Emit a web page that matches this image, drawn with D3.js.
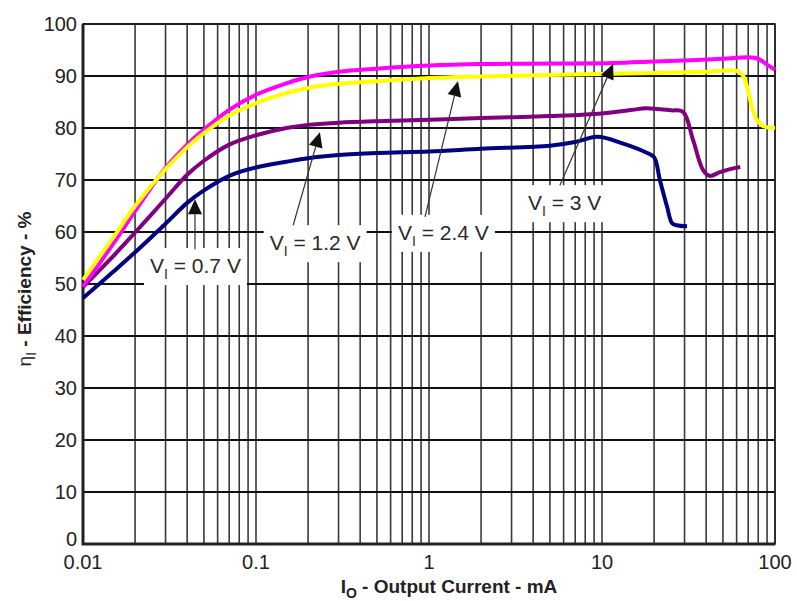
<!DOCTYPE html>
<html>
<head>
<meta charset="utf-8">
<script src="https://cdn.jsdelivr.net/npm/d3@7"></script>
<style>
  body { margin: 0; background: #fff; }
  svg { display: block; font-family: "Liberation Sans", Arial, sans-serif; }
</style>
</head>
<body>
<svg id="chart" width="797" height="601"></svg>
<script>
// output current (mA) and efficiency (%)
var i07 = [0.01, 0.015, 0.02, 0.03, 0.04, 0.05, 0.07, 0.1, 0.15, 0.2, 0.3, 0.5, 1, 2, 5, 7, 9.4, 13, 18, 20, 21.6, 23.8, 25.4, 27, 31];
var e07 = [47.3, 52.4, 56.1, 61.6, 65.6, 68, 70.8, 72.4, 73.5, 74.2, 74.8, 75.2, 75.5, 76, 76.6, 77.3, 78.3, 77.1, 75.3, 74.4, 70, 64.8, 61.7, 61.3, 61.1];

var i12 = [0.01, 0.015, 0.02, 0.03, 0.04, 0.05, 0.07, 0.1, 0.15, 0.2, 0.3, 0.5, 1, 2, 5, 10, 15, 18, 25, 29.4, 33.6, 38.4, 42, 48, 55, 63];
var e12 = [49.4, 55.4, 59.9, 66.4, 71, 73.7, 76.8, 78.6, 80, 80.6, 81, 81.3, 81.6, 81.9, 82.3, 82.8, 83.5, 83.8, 83.4, 83.1, 77.7, 71.9, 70.8, 71.5, 72.1, 72.5];

var i24 = [0.01, 0.015, 0.02, 0.03, 0.04, 0.05, 0.07, 0.1, 0.15, 0.2, 0.3, 0.5, 1, 2, 5, 10, 20, 40, 60, 65, 69, 73.6, 78.7, 85, 100];
var e24 = [50.8, 59, 65, 72.1, 76.3, 79, 82.4, 84.8, 86.7, 87.7, 88.5, 89, 89.6, 89.9, 90.2, 90.4, 90.6, 90.8, 91, 90.2, 87.9, 84, 81.5, 80.4, 80];

var i30 = [0.01, 0.015, 0.02, 0.03, 0.04, 0.05, 0.07, 0.1, 0.15, 0.2, 0.3, 0.5, 1, 2, 5, 11.6, 20, 30, 50, 70, 80, 90, 100];
var e30 = [49.5, 57.8, 64, 72.3, 76.8, 79.7, 83.5, 86.4, 88.6, 89.8, 90.8, 91.4, 92, 92.3, 92.4, 92.5, 92.8, 93, 93.3, 93.6, 93.3, 92.2, 91.2];

var yTicks = [0, 10, 20, 30, 40, 50, 60, 70, 80, 90, 100];
var xTicks = [0.01, 0.1, 1, 10, 100];
var xTickLabels = ["0.01", "0.1", "1", "10", "100"];

// V_I labels: text start, arrow start and arrow tip in data units (mA, %)
var notes = [
  { v: "0.7 V", at: [0.0244, 52.1], from: [0.0444, 56.7], to: [0.0444, 66.3] },
  { v: "1.2 V", at: [0.12, 56.5], from: [0.164, 61.3], to: [0.234, 79.2] },
  { v: "2.4 V", at: [0.662, 58.5], from: [0.948, 62.9], to: [1.47, 89.0] },
  { v: "3 V", at: [3.73, 64.2], from: [5.71, 69], to: [11.6, 92.3] }
];

(function() {

  var svg = d3.select("#chart");
  var left = 83, right = 775, plotTop = 24, bottom = 544;

  var x = d3.scaleLog().domain([0.01, 100]).range([left, right]);
  var y = d3.scaleLinear().domain([0, 100]).range([bottom, plotTop]);

  // vertical grid: 1..9 in each decade
  var vLines = [];
  [0.01, 0.1, 1, 10].forEach(function(d) {
    for (var k = 1; k <= 9; k++) vLines.push(k * d);
  });
  vLines.push(100);

  svg.append("g")
    .selectAll("line")
    .data(vLines)
    .join("line")
    .attr("x1", function(d) { return x(d); })
    .attr("x2", function(d) { return x(d); })
    .attr("y1", plotTop)
    .attr("y2", bottom)
    .attr("stroke", "#3a3a3a")
    .attr("stroke-width", 1.6);

  svg.append("g")
    .selectAll("line")
    .data(yTicks)
    .join("line")
    .attr("x1", left)
    .attr("x2", right)
    .attr("y1", function(d) { return y(d); })
    .attr("y2", function(d) { return y(d); })
    .attr("stroke", "#111")
    .attr("stroke-width", 2);

  // frame
  svg.append("rect")
    .attr("x", left).attr("y", plotTop)
    .attr("width", right - left).attr("height", bottom - plotTop)
    .attr("fill", "none").attr("stroke", "#222").attr("stroke-width", 1.6);
  svg.append("path")
    .attr("d", "M" + left + "," + plotTop + "V" + bottom + "H" + right)
    .attr("fill", "none").attr("stroke", "#222").attr("stroke-width", 3);

  // white boxes behind labels
  var labels = svg.append("g");
  notes.forEach(function(n) {
    var g = labels.append("g");
    var t = g.append("text")
      .attr("x", x(n.at[0]))
      .attr("y", y(n.at[1]))
      .attr("font-size", 21)
      .attr("fill", "#2a2a2a");
    t.append("tspan").text("V");
    t.append("tspan").attr("font-size", 14).attr("dy", 6).text("I");
    t.append("tspan").attr("dy", -6).text(" = " + n.v);
    var bb = t.node().getBBox();
    g.insert("rect", "text")
      .attr("x", bb.x - 6)
      .attr("y", y(n.at[1]) - 25)
      .attr("width", bb.width + 12)
      .attr("height", 37)
      .attr("fill", "#fff");
  });

  // curves
  var line = d3.line()
    .x(function(d) { return x(d[0]); })
    .y(function(d) { return y(d[1]); })
    .curve(d3.curveCatmullRom.alpha(0.5));

  var curves = [
    { i: i07, e: e07, color: "#000080" },
    { i: i12, e: e12, color: "#800080" },
    { i: i30, e: e30, color: "#ff00ff" },
    { i: i24, e: e24, color: "#ffff00" }
  ];

  svg.append("g")
    .selectAll("path")
    .data(curves)
    .join("path")
    .attr("d", function(c) { return line(d3.zip(c.i, c.e)); })
    .attr("fill", "none")
    .attr("stroke", function(c) { return c.color; })
    .attr("stroke-width", 4)
    .attr("stroke-linejoin", "round");

  // arrows
  notes.forEach(function(n) {
    var x0 = x(n.from[0]), y0 = y(n.from[1]);
    var x1 = x(n.to[0]), y1 = y(n.to[1]);
    var a = Math.atan2(y1 - y0, x1 - x0);
    var len = 15, half = 7;
    var bx = x1 - len * Math.cos(a), by = y1 - len * Math.sin(a);
    svg.append("line")
      .attr("x1", x0).attr("y1", y0)
      .attr("x2", bx).attr("y2", by)
      .attr("stroke", "#333").attr("stroke-width", 1.2);
    svg.append("path")
      .attr("d", "M" + x1 + "," + y1 +
        "L" + (bx + half * Math.sin(a)) + "," + (by - half * Math.cos(a)) +
        "L" + (bx - half * Math.sin(a)) + "," + (by + half * Math.cos(a)) + "Z")
      .attr("fill", "#111");
  });

  // tick labels
  svg.append("g")
    .selectAll("text")
    .data(yTicks)
    .join("text")
    .attr("x", 77)
    .attr("y", function(d) { return y(d); })
    .attr("dy", function(d) { return d === 0 ? "0.1em" : "0.36em"; })
    .attr("text-anchor", "end")
    .attr("font-size", 20)
    .attr("fill", "#222")
    .text(function(d) { return d; });

  svg.append("g")
    .selectAll("text")
    .data(xTicks)
    .join("text")
    .attr("x", function(d) { return x(d); })
    .attr("y", bottom + 25)
    .attr("text-anchor", "middle")
    .attr("font-size", 20)
    .attr("fill", "#222")
    .text(function(d, i) { return xTickLabels[i]; });

  // axis titles
  var xt = svg.append("text")
    .attr("x", 449)
    .attr("y", 593)
    .attr("text-anchor", "middle")
    .attr("font-size", 19)
    .attr("font-weight", "bold")
    .attr("fill", "#222");
  xt.append("tspan").text("I");
  xt.append("tspan").attr("font-size", 14).attr("dy", 5).text("O");
  xt.append("tspan").attr("dy", -5).text(" - Output Current - mA");

  var yt = svg.append("text")
    .attr("transform", "translate(31,289) rotate(-90)")
    .attr("text-anchor", "middle")
    .attr("font-size", 19)
    .attr("font-weight", "bold")
    .attr("fill", "#222");
  yt.append("tspan").attr("font-weight", "normal").text("η");
  yt.append("tspan").attr("font-size", 14).attr("font-weight", "normal").attr("dy", 5).text("I");
  yt.append("tspan").attr("dy", -5).text(" - Efficiency - %");

})();
</script>
</body>
</html>
